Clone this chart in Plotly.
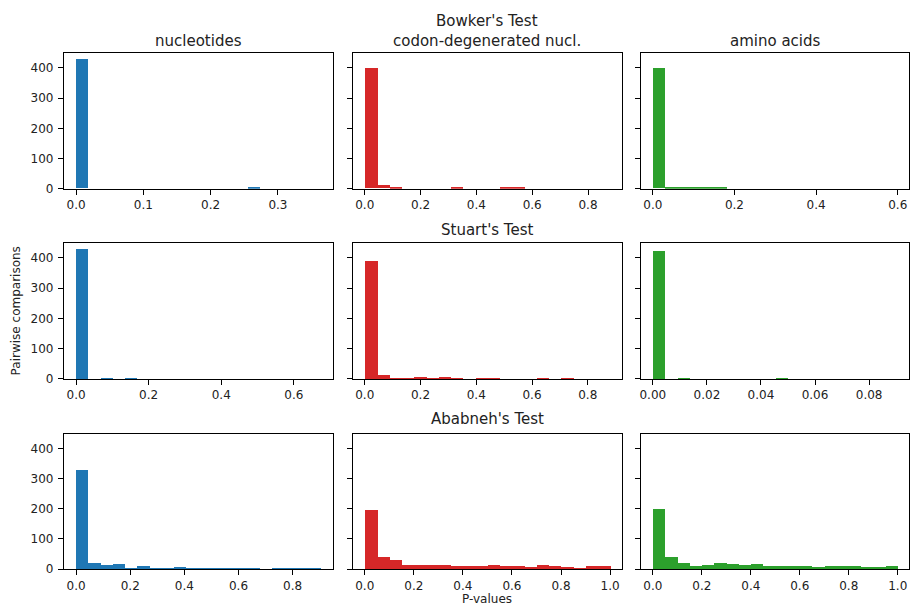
import numpy as np
import plotly.graph_objects as go

# ---- data: histogram counts (20 equal bins from 0 to max p-value) ----
nuc_bowker = [427, 0, 0, 0, 0, 0, 0, 0, 0, 0, 0, 0, 0, 0, 3, 0, 0, 0, 0, 0]
codon_bowker = [398, 11, 5, 0, 0, 0, 0, 3, 0, 0, 0, 3, 3, 0, 0, 0, 0, 0, 0, 0]
aa_bowker = [398, 6, 3, 6, 3, 3, 0, 0, 0, 0, 0, 0, 0, 0, 0, 0, 0, 0, 0, 0]

nuc_stuart = [427, 0, 2, 0, 2, 0, 0, 0, 0, 0, 0, 0, 0, 0, 0, 0, 0, 0, 0, 0]
codon_stuart = [388, 11, 2, 2, 4, 2, 4, 2, 0, 2, 2, 0, 0, 0, 2, 0, 2, 0, 0, 0]
aa_stuart = [421, 0, 2, 0, 0, 0, 0, 0, 0, 0, 2, 0, 0, 0, 0, 0, 0, 0, 0, 0]

nuc_ababneh = [328, 21, 14, 17, 5, 10, 2, 5, 8, 4, 2, 2, 2, 2, 2, 0, 2, 2, 5, 5]
codon_ababneh = [195, 40, 31, 15, 15, 15, 15, 10, 12, 12, 15, 12, 10, 6, 15, 10, 6, 3, 12, 12]
aa_ababneh = [200, 40, 21, 12, 15, 21, 17, 14, 17, 12, 10, 10, 10, 6, 10, 10, 10, 6, 6, 10]

# maximum p-value of each panel (upper edge of last bin)
max_pvalues = [0.364, 0.879, 0.60,
               0.675, 0.88, 0.0906,
               0.905, 1.0, 1.0]

panels = [nuc_bowker, codon_bowker, aa_bowker,
          nuc_stuart, codon_stuart, aa_stuart,
          nuc_ababneh, codon_ababneh, aa_ababneh]

column_titles = ["nucleotides", "codon-degenerated nucl.", "amino acids"]
row_titles = ["Bowker's Test", "Stuart's Test", "Ababneh's Test"]
x_dticks = [0.1, 0.2, 0.2, 0.2, 0.2, 0.02, 0.2, 0.2, 0.2]
x_formats = [".1f", ".1f", ".1f", ".1f", ".1f", ".2f", ".1f", ".1f", ".1f"]
y_max = 448

colors = ["#1f77b4", "#d62728", "#2ca02c"]

W, H = 910, 612
col_px = [(63, 333), (352.3, 622.7), (641, 911)]
row_px = [(54, 191), (246, 383.3), (439, 575.7)]

FONT = "DejaVu Sans"
TXT = "#222222"

fig = go.Figure()
layout = dict(
    width=W, height=H, margin=dict(l=0, r=0, t=0, b=0),
    plot_bgcolor="white", paper_bgcolor="white",
    showlegend=False, font=dict(family=FONT, size=12, color=TXT),
    bargap=0,
)

for i, counts in enumerate(panels):
    r, c = divmod(i, 3)
    M = max_pvalues[i]
    edges = np.linspace(0, M, len(counts) + 1)
    centers = (edges[:-1] + edges[1:]) / 2
    bw = edges[1] - edges[0]
    n = i + 1
    xa = "x" if n == 1 else f"x{n}"
    ya = "y" if n == 1 else f"y{n}"
    fig.add_trace(go.Bar(
        x=centers, y=counts, width=bw,
        marker=dict(color=colors[c], line=dict(width=0)),
        xaxis=xa, yaxis=ya,
    ))
    x0, x1 = col_px[c]
    y0, y1 = row_px[r]
    span = 1.1 * M
    # last column is clipped by the right edge of the picture
    x1c = min(x1, W)
    width_ratio = (x1c - x0) / (x1 - x0)
    xr = [-0.05 * M, -0.05 * M + span * width_ratio]
    layout["xaxis" if n == 1 else f"xaxis{n}"] = dict(
        domain=[x0 / W, x1c / W], anchor=ya, range=xr,
        dtick=x_dticks[i], tick0=0, tickformat=x_formats[i],
        showline=True, mirror=True, linecolor="black", linewidth=1,
        ticks="outside", ticklen=5, tickcolor="black",
        showgrid=False, zeroline=False,
        tickfont=dict(family=FONT, size=12, color=TXT),
    )
    layout["yaxis" if n == 1 else f"yaxis{n}"] = dict(
        domain=[1 - y1 / H, 1 - y0 / H], anchor=xa, range=[0, y_max],
        dtick=100, tick0=0, showticklabels=(c == 0),
        showline=True, mirror=True, linecolor="black", linewidth=1,
        ticks="outside", ticklen=5, tickcolor="black",
        ticklabelstandoff=2,
        showgrid=False, zeroline=False,
        tickfont=dict(family=FONT, size=12, color=TXT),
    )

annotations = []
# column titles above the top row
for c, t in enumerate(column_titles):
    x0, x1 = col_px[c]
    annotations.append(dict(text=t, x=(x0 + x1) / 2 / W, y=1 - 41 / H,
                            xref="paper", yref="paper",
                            showarrow=False, xanchor="center", yanchor="middle",
                            font=dict(family=FONT, size=15, color=TXT)))
# row titles above the middle column
row_title_y = [21, 233, 424]
for r, t in enumerate(row_titles):
    x0, x1 = col_px[1]
    annotations.append(dict(text=t, x=(x0 + x1) / 2 / W, y=1 - row_title_y[r] / H,
                            xref="paper", yref="paper", showarrow=False,
                            xanchor="center", yanchor="middle",
                            font=dict(family=FONT, size=15, color=TXT)))
# axis labels
annotations.append(dict(text="Pairwise comparisons", x=15 / W, y=1 - 314 / H,
                        xref="paper", yref="paper", showarrow=False, textangle=-90,
                        xanchor="center", yanchor="middle",
                        font=dict(family=FONT, size=12, color=TXT)))
annotations.append(dict(text="P-values", x=(col_px[1][0] + col_px[1][1]) / 2 / W,
                        y=1 - 606 / H, xref="paper", yref="paper", showarrow=False,
                        xanchor="center", yanchor="middle",
                        font=dict(family=FONT, size=12, color=TXT)))
layout["annotations"] = annotations

fig.update_layout(**layout)
fig.write_html("out.html", config={"displayModeBar": False},
               post_script="document.body.style.margin='0';document.body.style.overflow='hidden';")
